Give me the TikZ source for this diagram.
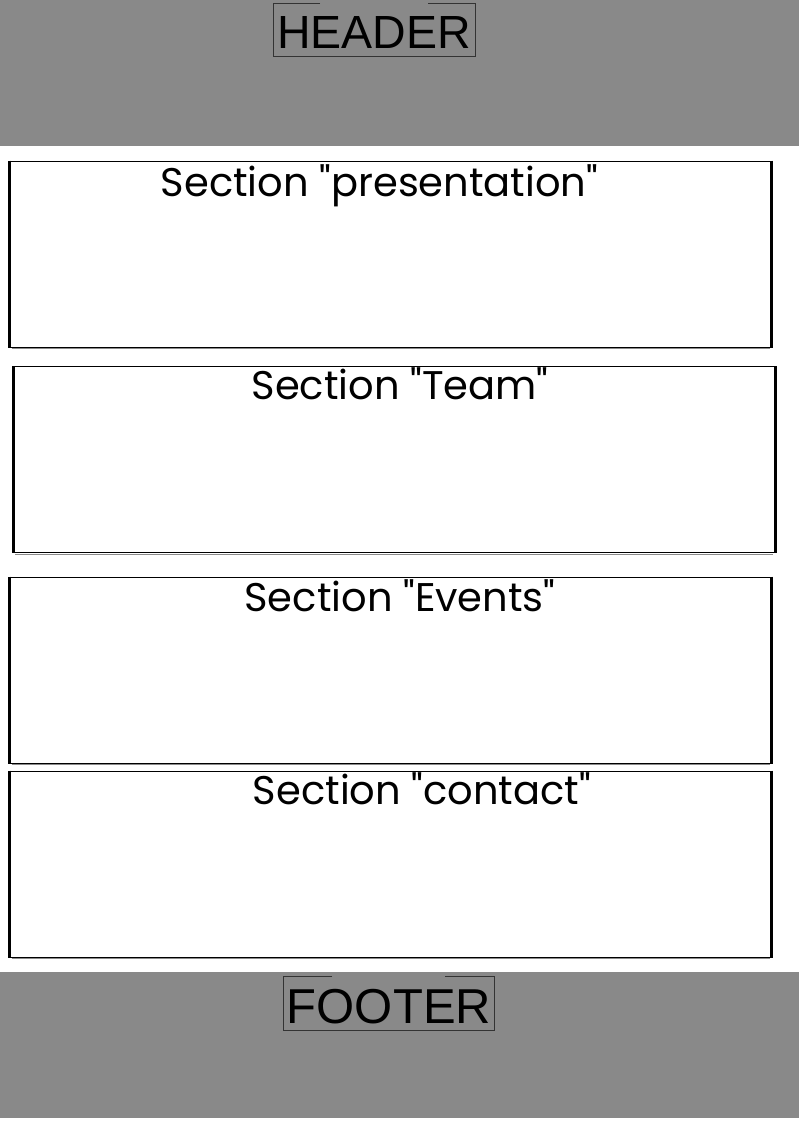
\documentclass[tikz,border=0pt]{standalone}
\usepackage{fontspec}
\newfontfamily\secfont{Poppins}
\newfontfamily\hdfont{Liberation Sans}
\definecolor{bandgray}{HTML}{898989}
\definecolor{edgegray}{HTML}{8A8A8A}
\begin{document}
\begin{tikzpicture}[x=1pt,y=-1pt,
  band/.style={fill=bandgray,draw=none,inner sep=0pt,minimum width=799pt,minimum height=146pt},
  secbox/.style={draw=black,line width=1pt,fill=white,inner sep=0pt,minimum width=763pt,minimum height=186pt},
  sectext/.style={anchor=base,inner sep=0pt,font=\secfont\fontsize{40}{40}\selectfont},
  hdtext/.style={anchor=base,inner sep=0pt,font=\hdfont\fontsize{46.5}{46.5}\selectfont},
  thickside/.style={line width=3pt,draw=black},
  frameline/.style={draw=black!80,line width=1pt}
]
\useasboundingbox (0,0) rectangle (799,1122);
% header and footer bands
\node[band,anchor=north west] (header) at (0,0) {};
\node[band,anchor=north west,minimum height=146pt] (footer) at (0,972) {};
\node[hdtext] (htext) at (374,48) {HEADER};
\node[hdtext,font=\hdfont\fontsize{49}{49}\selectfont] (ftext) at (389,1023) {FOOTER};
\draw[frameline] (320,3.5) -- (273.5,3.5) -- (273.5,56) -- (475.5,56) -- (475.5,3.5) -- (428,3.5);
\draw[frameline] (332,976.5) -- (283.5,976.5) -- (283.5,1030) -- (494.5,1030) -- (494.5,976.5) -- (445,976.5);
% sections
\node[secbox,anchor=north west] (s1) at (8.5,160.5) {};
\node[secbox,anchor=north west] (s2) at (12,366) {};
\node[secbox,anchor=north west] (s3) at (8.5,576.5) {};
\node[secbox,anchor=north west] (s4) at (8.5,770.5) {};
\foreach \n in {s1,s2,s3,s4}{
  \draw[thickside] ([xshift=1pt]\n.north west) -- ([xshift=1pt]\n.south west);
  \draw[thickside] ([xshift=-1pt]\n.north east) -- ([xshift=-1pt]\n.south east);
  \draw[edgegray,line width=0.8pt] ([shift={(3pt,-1.2pt)}]\n.south west) -- ([shift={(-3pt,-1.2pt)}]\n.south east);
}
\node[sectext] (t1) at (379.5,196) {Section "presentation"};
\node[sectext] (t2) at (400,399) {Section "Team"};
\node[sectext] (t3) at (400,611) {Section "Events"};
\node[sectext] (t4) at (422,804) {Section "contact"};
\end{tikzpicture}
\end{document}
